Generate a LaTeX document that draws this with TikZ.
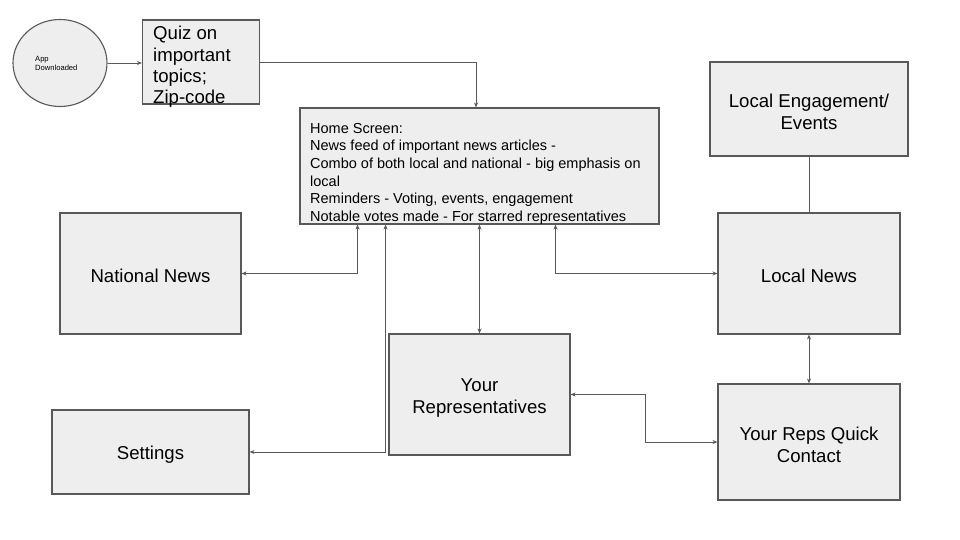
\documentclass[tikz,border=0pt]{standalone}
\usepackage{fontspec}
\setmainfont{Liberation Sans}
\usetikzlibrary{arrows.meta,shapes.geometric}
\definecolor{edge}{HTML}{595959}
\definecolor{boxfill}{HTML}{EEEEEE}
\tikzset{
  box/.style={draw=edge, fill=boxfill, line width=1.1pt, inner sep=0pt},
  txt/.style={inner sep=0pt, align=center, font=\fontsize{18.6}{21.7}\selectfont},
  conn/.style={draw=edge, line width=0.9pt},
  arr/.style={conn, -{Stealth[length=5pt,width=4pt]}},
  darr/.style={conn, {Stealth[length=5pt,width=4pt]}-{Stealth[length=5pt,width=4pt]}},
}
\begin{document}
\begin{tikzpicture}[x=1pt,y=-1pt]
\useasboundingbox[fill=white] (0,0) rectangle (960,540);

\node[box, ellipse, minimum width=94pt, minimum height=87pt] (app) at (60,63) {};
\node[anchor=west, align=left, inner sep=0pt, font=\fontsize{7.6}{9}\selectfont] (apptext) at (35,63.5) {App\\Downloaded};

\node[box, minimum width=117pt, minimum height=84pt] (quiz) at (201,62) {};
\node[anchor=north west, align=left, inner sep=0pt, font=\fontsize{18.6}{21.4}\selectfont] (quiztext) at (153,26) {Quiz on\\important\\topics;\\Zip-code};

\node[box, minimum width=359pt, minimum height=116pt] (home) at (479.5,166) {};
\node[anchor=north west, align=left, inner sep=0pt, font=\fontsize{14.5}{17.6}\selectfont] (hometext) at (310,123) {Home Screen:\\News feed of important news articles -\\Combo of both local and national - big emphasis on\\local\\Reminders - Voting, events, engagement\\Notable votes made - For starred representatives};

\node[box, minimum width=181pt, minimum height=121pt] (national) at (150.5,273.5) {};
\node[txt] (nationalT) at ([yshift=-2pt]national.center) {National News};
\node[box, minimum width=197pt, minimum height=84pt] (settings) at (150.5,452) {};
\node[txt] (settingsT) at ([yshift=-3pt]settings.center) {Settings};
\node[box, minimum width=181pt, minimum height=121pt] (reps) at (479.5,394.5) {};
\node[txt] (repsT) at ([yshift=-3.5pt]reps.center) {Your\\Representatives};
\node[box, minimum width=198pt, minimum height=94pt] (engage) at (809,109) {};
\node[txt] (engageT) at ([yshift=-3pt]engage.center) {Local Engagement/\\Events};
\node[box, minimum width=182pt, minimum height=121pt] (local) at (809,273.5) {};
\node[txt] (localT) at ([yshift=-2pt]local.center) {Local News};
\node[box, minimum width=182pt, minimum height=116pt] (quick) at (809,442) {};
\node[txt] (quickT) at ([yshift=-3pt]quick.center) {Your Reps Quick\\Contact};

\draw[arr] (app.east) -- (quiz.west |- app.east);
\draw[arr] (quiz.east) -| ([xshift=-3.5pt]home.north);
\draw[darr] ([xshift=-122pt]home.south) |- (national.east);
\draw[darr] ([xshift=-94pt]home.south) |- (settings.east);
\draw[darr] (home.south) -- (reps.north);
\draw[darr] ([xshift=76pt]home.south) |- (local.west);
\draw[conn] (engage.south) -- (local.north);
\draw[darr] (local.south) -- (quick.north);
\draw[darr] (reps.east) -- ++(75,0) |- (quick.west);
\end{tikzpicture}
\end{document}
